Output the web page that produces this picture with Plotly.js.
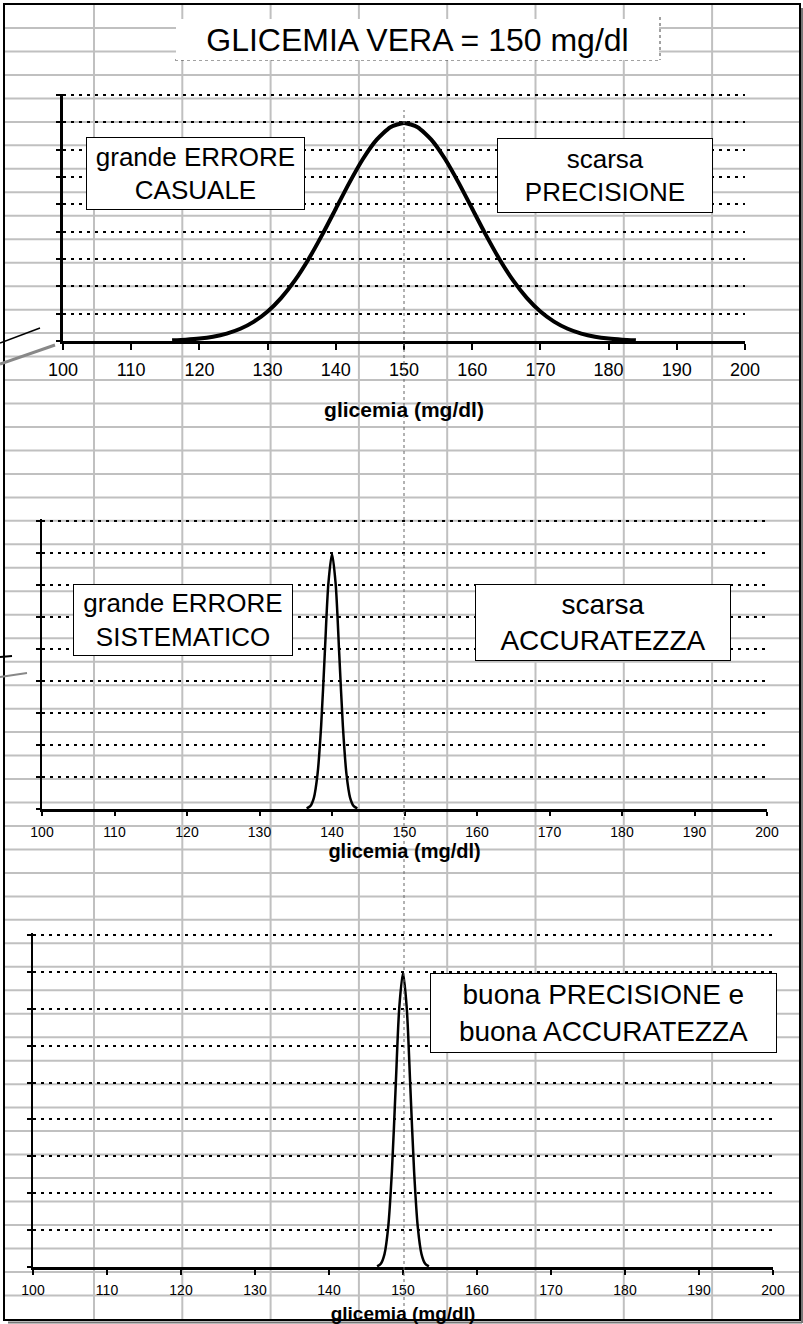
<!DOCTYPE html>
<html><head><meta charset="utf-8">
<script src="https://cdn.plot.ly/plotly-3.0.1.min.js"></script>
<style>html,body{margin:0;padding:0;background:#fff;overflow:hidden}#chart{width:803px;height:1324px}</style>
</head><body><div id="chart"></div>
<script>
// ---- data ----
const trueValue = 150;
const mainTitle = 'GLICEMIA VERA = 150 mg/dl';
const axisTitle = 'glicemia (mg/dl)';
const xTickVals = [100,110,120,130,140,150,160,170,180,190,200];
const xTickText = ['100','110','120','130','140','150','160','170','180','190','200'];

// chart 1: large random error (wide curve centred on 150)
const xWide = [116,118,120,122,124,126,128,130,132,134,136,138,140,142,144,146,148,150,152,154,156,158,160,162,164,166,168,170,172,174,176,178,180,182,184];
const yWide = [0.00012,0.00024,0.00044,0.00079,0.00136,0.00224,0.00355,0.00540,0.00790,0.01109,0.01497,0.01942,0.02420,0.02897,0.03333,0.03683,0.03911,0.03990,0.03911,0.03683,0.03333,0.02897,0.02420,0.01942,0.01497,0.01109,0.00790,0.00540,0.00355,0.00224,0.00136,0.00079,0.00044,0.00024,0.00012];

// chart 2: large systematic error (narrow curve centred on 140)
const xSys = [136.5,137,137.5,138,138.5,139,139.5,140,140.5,141,141.5,142,142.5,143,143.5];
const ySys = [0.0009,0.0044,0.0175,0.0540,0.1295,0.2420,0.3521,0.3989,0.3521,0.2420,0.1295,0.0540,0.0175,0.0044,0.0009];

// chart 3: good precision and accuracy (narrow curve centred on 150)
const xGood = [146.5,147,147.5,148,148.5,149,149.5,150,150.5,151,151.5,152,152.5,153,153.5];
const yGood = [0.0009,0.0044,0.0175,0.0540,0.1295,0.2420,0.3521,0.3989,0.3521,0.2420,0.1295,0.0540,0.0175,0.0044,0.0009];

const boxTexts = ['grande ERRORE<br>CASUALE','scarsa<br>PRECISIONE','grande ERRORE<br>SISTEMATICO','scarsa<br>ACCURATEZZA','buona PRECISIONE e<br>buona ACCURATEZZA'];

// ---- layout helpers ----
const W = 803, H = 1324;
const px = v => v / W;
const py = v => 1 - v / H;
const FONT = 'Liberation Sans, Arial, sans-serif';

function xAxis(l, r, anchor, tickSize, lw, tlen, lblOff, titleSize, titleOff) {
  return {
    domain: [px(l), px(r)], anchor: anchor, range: [100, 200],
    tickmode: 'array', tickvals: xTickVals, ticktext: xTickText,
    ticks: 'outside', ticklen: tlen, tickwidth: 2, tickcolor: '#000',
    showline: true, linecolor: '#000', linewidth: lw,
    showgrid: false, zeroline: false,
    tickfont: {family: FONT, size: tickSize, color: '#000'},
    ticklabelstandoff: lblOff,
    title: {text: '<b>' + axisTitle + '</b>', font: {family: FONT, size: titleSize, color: '#000'}, standoff: titleOff},
    fixedrange: true
  };
}
function yAxis(top, bottom, anchor, maxR, dt, lw, tlen) {
  return {
    domain: [py(bottom), py(top)], anchor: anchor, range: [0, maxR],
    tick0: 0, dtick: dt, ticks: 'outside', ticklen: tlen, tickwidth: 2, tickcolor: '#000',
    showticklabels: false, showline: true, linecolor: '#000', linewidth: lw,
    showgrid: true, gridcolor: '#000', gridwidth: 2, griddash: '3px,5px',
    zeroline: false, fixedrange: true
  };
}

const traces = [
  {x: xWide, y: yWide, xaxis: 'x', yaxis: 'y', mode: 'lines', line: {color: '#000', width: 4, shape: 'spline', smoothing: 0.6}, hoverinfo: 'skip'},
  {x: xSys, y: ySys, xaxis: 'x2', yaxis: 'y2', mode: 'lines', line: {color: '#000', width: 2.5, shape: 'spline', smoothing: 0.8}, hoverinfo: 'skip'},
  {x: xGood, y: yGood, xaxis: 'x3', yaxis: 'y3', mode: 'lines', line: {color: '#000', width: 2.5, shape: 'spline', smoothing: 0.8}, hoverinfo: 'skip'}
];

// spreadsheet background cells
const shapes = [];
const gray = '#c0c0c0';
for (let k = 0; k < 8; k++) {
  const x = 94 + 88.3 * k;
  shapes.push({type: 'line', xref: 'paper', yref: 'paper', layer: 'below', x0: px(x), x1: px(x), y0: py(4), y1: py(1320), line: {color: gray, width: 2}});
}
for (let k = 0; k < 55; k++) {
  const y = 28 + 23.47 * k;
  shapes.push({type: 'line', xref: 'paper', yref: 'paper', layer: 'below', x0: px(4), x1: px(800), y0: py(y), y1: py(y), line: {color: gray, width: 2}});
}
// outer frame with shadow
shapes.push({type: 'line', xref: 'paper', yref: 'paper', layer: 'above', x0: px(802), x1: px(802), y0: py(8), y1: py(1323), line: {color: '#777', width: 2}});
shapes.push({type: 'line', xref: 'paper', yref: 'paper', layer: 'above', x0: px(8), x1: px(802), y0: py(1322.5), y1: py(1322.5), line: {color: '#777', width: 2}});
shapes.push({type: 'rect', xref: 'paper', yref: 'paper', layer: 'above', x0: px(4), x1: px(800), y0: py(1320), y1: py(4), line: {color: '#000', width: 2}});
// title box dotted edges
shapes.push({type: 'line', xref: 'paper', yref: 'paper', layer: 'above', x0: px(175), x1: px(660), y0: py(60), y1: py(60), line: {color: '#444', width: 1, dash: 'dot'}});
shapes.push({type: 'line', xref: 'paper', yref: 'paper', layer: 'above', x0: px(660), x1: px(660), y0: py(17), y1: py(60), line: {color: '#444', width: 1, dash: 'dot'}});
// true-value reference line
shapes.push({type: 'line', xref: 'x', yref: 'paper', layer: 'above', x0: trueValue, x1: trueValue, y0: py(1318), y1: py(110), line: {color: '#666', width: 1, dash: 'dot'}});
// callout remnants at the left edge
shapes.push({type: 'line', xref: 'paper', yref: 'paper', layer: 'above', x0: px(0), x1: px(40), y0: py(343), y1: py(328), line: {color: '#000', width: 1.5}});
shapes.push({type: 'line', xref: 'paper', yref: 'paper', layer: 'above', x0: px(0), x1: px(55), y0: py(364), y1: py(345), line: {color: '#888', width: 3}});
shapes.push({type: 'line', xref: 'paper', yref: 'paper', layer: 'above', x0: px(0), x1: px(12), y0: py(657), y1: py(656), line: {color: '#000', width: 2}});
shapes.push({type: 'line', xref: 'paper', yref: 'paper', layer: 'above', x0: px(0), x1: px(27), y0: py(677), y1: py(673), line: {color: '#888', width: 2}});

function box(text, l, r, t, b, size) {
  return {
    text: text, xref: 'paper', yref: 'paper', x: px((l + r) / 2), y: py((t + b) / 2),
    xanchor: 'center', yanchor: 'middle', showarrow: false,
    width: r - l - 2, height: b - t - 2, align: 'center', valign: 'middle',
    bgcolor: '#fff', bordercolor: '#000', borderwidth: 1, borderpad: 0,
    font: {family: FONT, size: size, color: '#000'}
  };
}
const annotations = [
  {text: mainTitle, xref: 'paper', yref: 'paper', x: px(417.5), y: py(40), xanchor: 'center', yanchor: 'middle', showarrow: false,
   width: 483, height: 41, bgcolor: '#fff', borderwidth: 0, borderpad: 0, font: {family: FONT, size: 32, color: '#000'}},
  box(boxTexts[0], 86, 305, 137, 210, 26),
  box(boxTexts[1], 497, 713, 138, 213, 26),
  box(boxTexts[2], 73, 293, 584, 656, 26),
  box(boxTexts[3], 475, 731, 584, 661, 28),
  box(boxTexts[4], 430, 777, 973, 1053, 28)
];

const layout = {
  width: W, height: H, margin: {l: 0, r: 0, t: 0, b: 0},
  paper_bgcolor: '#fff', plot_bgcolor: 'rgba(0,0,0,0)', showlegend: false,
  font: {family: FONT, color: '#000'},
  xaxis: xAxis(63, 745, 'y', 18, 3, 6, 4, 21, 24),
  yaxis: yAxis(93.63, 341, 'x', 0.04525, 0.005, 3, 4),
  xaxis2: xAxis(42, 767, 'y2', 14, 2.5, 4, 5, 20, 5),
  yaxis2: yAxis(519.4, 809, 'x2', 0.4525, 0.05, 2.5, 4),
  xaxis3: xAxis(33, 773, 'y3', 14, 2.5, 5, 4, 19, 13),
  yaxis3: yAxis(933.2, 1267, 'x3', 0.4525, 0.05, 2.5, 4),
  shapes: shapes, annotations: annotations
};

Plotly.newPlot('chart', traces, layout, {staticPlot: true, displayModeBar: false});
</script>
</body></html>
